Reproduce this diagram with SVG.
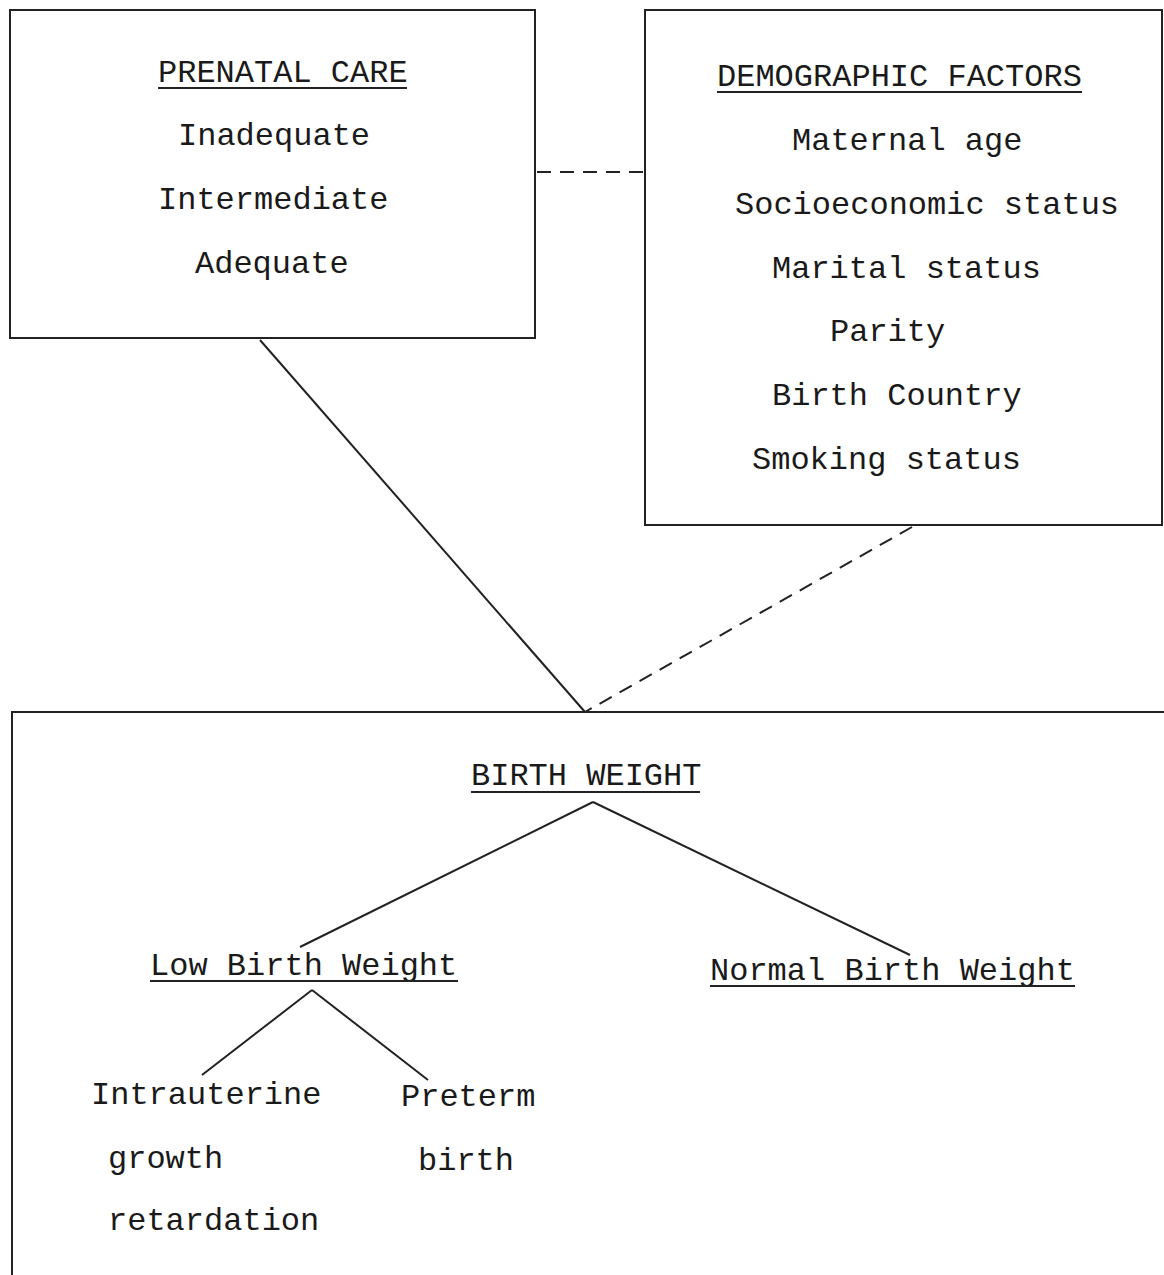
<svg xmlns="http://www.w3.org/2000/svg" width="1164" height="1275" viewBox="0 0 1164 1275">
<style>
.box{fill:none;stroke:#222;stroke-width:2}
.ln{fill:none;stroke:#222;stroke-width:2}
.dash{fill:none;stroke:#222;stroke-width:2;stroke-dasharray:14 9}
.ul{stroke:#222;stroke-width:1.8}
text{font-family:"Liberation Mono","Courier New",monospace;font-size:32px;fill:#1a1a1a}
.cond{font-family:"Liberation Mono","Courier New",monospace}
</style>
<rect width="1164" height="1275" fill="#fff"/>
<g id="connectors">
<line class="dash" x1="537" y1="172" x2="645" y2="172"/>
<line class="ln" x1="260" y1="340" x2="585" y2="712"/>
<line class="dash" x1="912" y1="527" x2="585" y2="712" stroke-dasharray="20 12"/>
<line class="ln" x1="593" y1="802" x2="300" y2="947"/>
<line class="ln" x1="593" y1="802" x2="910" y2="955"/>
<line class="ln" x1="312" y1="990" x2="202" y2="1075"/>
<line class="ln" x1="312" y1="990" x2="428" y2="1080"/>
</g>
<g id="prenatal">
<rect class="box" x="10" y="10" width="525" height="328"/>
<text x="158" y="82">PRENATAL CARE</text>
<line class="ul" x1="158" y1="88" x2="407" y2="88"/>
<text x="178" y="145">Inadequate</text>
<text x="158" y="209">Intermediate</text>
<text x="195" y="273">Adequate</text>
</g>
<g id="demographic">
<rect class="box" x="645" y="10" width="517" height="515"/>
<text x="717" y="86">DEMOGRAPHIC FACTORS</text>
<line class="ul" x1="717" y1="92" x2="1082" y2="92"/>
<text x="792" y="150">Maternal age</text>
<text x="735" y="214">Socioeconomic status</text>
<text x="772" y="278">Marital status</text>
<text x="830" y="341">Parity</text>
<text x="772" y="405">Birth Country</text>
<text x="752" y="469">Smoking status</text>
</g>
<g id="birthweight">
<path class="box" d="M12 1275 L12 712 L1164 712"/>
<text x="471" y="785">BIRTH WEIGHT</text>
<line class="ul" x1="471" y1="792" x2="700" y2="792"/>
</g>
<g id="lbw">
<text x="150" y="975">Low Birth Weight</text>
<line class="ul" x1="150" y1="981" x2="458" y2="981"/>
</g>
<g id="nbw">
<text x="710" y="980">Normal Birth Weight</text>
<line class="ul" x1="710" y1="986" x2="1075" y2="986"/>
</g>
<g id="iugr">
<text x="91" y="1104">Intrauterine</text>
<text x="108" y="1168">growth</text>
<text x="108" y="1230">retardation</text>
</g>
<g id="preterm">
<text x="401" y="1106">Preterm</text>
<text x="418" y="1170">birth</text>
</g>
</svg>
